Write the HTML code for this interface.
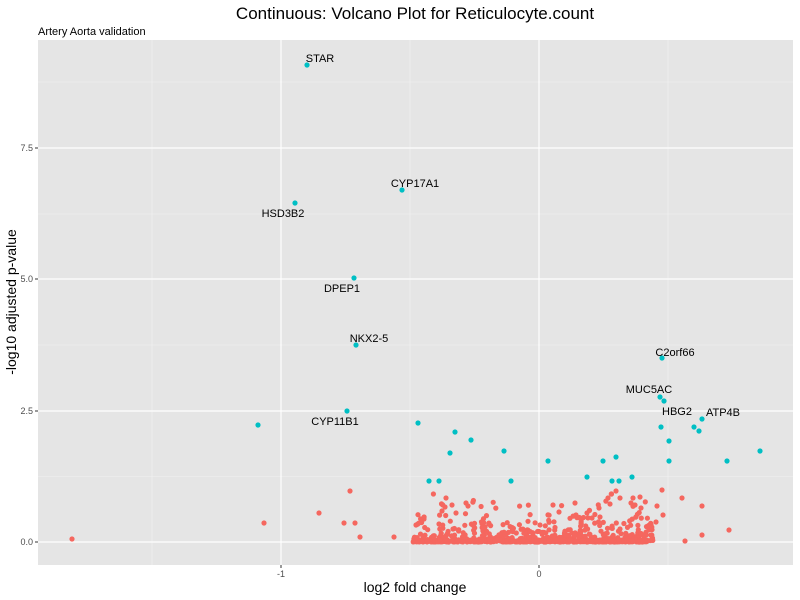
<!DOCTYPE html>
<html><head><meta charset="utf-8"><style>
body{margin:0;background:#fff;}
svg{display:block;font-family:"Liberation Sans",sans-serif;}
</style></head><body>
<svg id="s" width="800" height="600" xmlns="http://www.w3.org/2000/svg">
<rect width="800" height="600" fill="#fff"/>
<text x="415" y="19" font-size="17" text-anchor="middle" fill="#000">Continuous: Volcano Plot for Reticulocyte.count</text>
<text x="38" y="35" font-size="11" fill="#000">Artery Aorta validation</text>
<rect x="38" y="40" width="755" height="525" fill="#e5e5e5"/>
<g stroke="#f2f2f2" stroke-width="0.6">
<line x1="38" x2="793" y1="476.5" y2="476.5"/><line x1="38" x2="793" y1="345" y2="345"/><line x1="38" x2="793" y1="214" y2="214"/><line x1="38" x2="793" y1="82" y2="82"/>
<line x1="152" x2="152" y1="40" y2="565"/><line x1="410" x2="410" y1="40" y2="565"/><line x1="668" x2="668" y1="40" y2="565"/>
</g>
<g stroke="#fff" stroke-width="1.2">
<line x1="38" x2="793" y1="542" y2="542"/><line x1="38" x2="793" y1="411" y2="411"/><line x1="38" x2="793" y1="279" y2="279"/><line x1="38" x2="793" y1="148" y2="148"/>
<line x1="281" x2="281" y1="40" y2="565"/><line x1="539" x2="539" y1="40" y2="565"/>
</g>
<g stroke="#333" stroke-width="1">
<line x1="35" x2="38" y1="542" y2="542"/><line x1="35" x2="38" y1="411" y2="411"/><line x1="35" x2="38" y1="279" y2="279"/><line x1="35" x2="38" y1="148" y2="148"/>
<line x1="281" x2="281" y1="565" y2="568"/><line x1="539" x2="539" y1="565" y2="568"/>
</g>
<g font-size="9" fill="#4d4d4d" text-anchor="end">
<text x="33" y="545">0.0</text><text x="33" y="414">2.5</text><text x="33" y="282">5.0</text><text x="33" y="151">7.5</text>
</g>
<g font-size="9" fill="#4d4d4d" text-anchor="middle">
<text x="281" y="577">-1</text><text x="539" y="577">0</text>
</g>
<text x="415" y="592" font-size="14" text-anchor="middle">log2 fold change</text>
<text transform="translate(16,302) rotate(-90)" font-size="14" text-anchor="middle">-log10 adjusted p-value</text>
<g id="red" fill="#f5675f"></g>
<g id="blue" fill="#00bfc4"></g>
<g font-size="11" fill="#000" text-anchor="middle">
<text x="320" y="62">STAR</text>
<text x="415" y="187">CYP17A1</text>
<text x="283" y="217">HSD3B2</text>
<text x="342" y="292">DPEP1</text>
<text x="369" y="342">NKX2-5</text>
<text x="335" y="425">CYP11B1</text>
<text x="675" y="356">C2orf66</text>
<text x="649" y="393">MUC5AC</text>
<text x="677" y="415">HBG2</text>
<text x="723" y="416">ATP4B</text>
</g>
</svg>
<script>
var ns="http://www.w3.org/2000/svg";
function dot(g,x,y){var c=document.createElementNS(ns,"circle");c.setAttribute("cx",x);c.setAttribute("cy",y);c.setAttribute("r",2.6);g.appendChild(c);}
var B=document.getElementById("blue"),R=document.getElementById("red");
[[307,65],[402,190],[295,203],[354,278],[356,345],[347,411],[662,358],[660,397],[664,401],[702,419],[258,425],[418,423],[455,432],[471,440],[450,453],[504,451],[548,461],[603,461],[616,457],[429,481],[439,481],[511,481],[587,477],[612,481],[619,481],[632,477],[661,427],[669,441],[669,461],[694,427],[699,431],[727,461],[760,451]].forEach(function(p){dot(B,p[0],p[1]);});
[[72,539],[264,523],[319,513],[344,523],[355,523],[350,491],[360,537],[394,537],[424,519],[446,498],[631,503],[663,515],[702,506],[729,530],[685,541],[651,525],[641,508],[662,490],[682,498],[657,506],[702,535],[656,522],[616,491],[633,498],[445,507],[452,505],[416,525],[442,511],[456,513],[466,503],[468,506],[453,529],[439,524],[540,525],[559,512],[576,515],[587,513],[599,508],[610,504],[620,498],[635,505],[640,497],[553,505],[575,503],[608,498],[592,518],[600,517]].forEach(function(p){dot(R,p[0],p[1]);});
var s=12345;function rnd(){s=(s*1103515245+12345)%2147483648;return s/2147483648;}
for(var i=0;i<650;i++){var x=413+rnd()*240;var d;var r=rnd();if(r<0.45)d=rnd()*2;else d=-Math.log(1-rnd()*0.999)*11;var y=542-Math.min(d,48);dot(R,x.toFixed(1),y.toFixed(1));}
for(var i=0;i<200;i++){dot(R,(420+rnd()*230).toFixed(1),(540+rnd()*2).toFixed(1));}
</script>
</body></html>
